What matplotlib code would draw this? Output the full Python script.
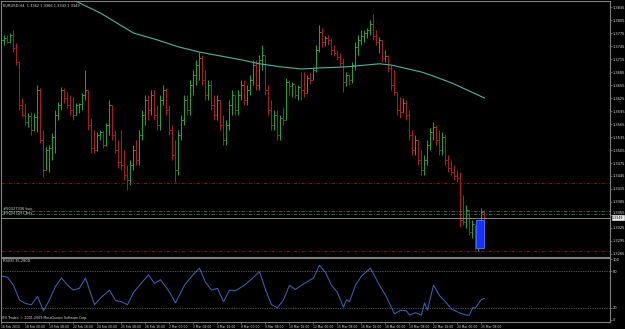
import matplotlib
matplotlib.use("Agg")
import matplotlib.pyplot as plt
from matplotlib.patches import Rectangle
import numpy as np

# EURUSD H4 bars, values in pips above 1.3000
FIRST_OPEN = 655
HIGHS = [770, 770, 770, 775, 782, 752, 710, 625, 613, 590,
         593, 590, 655, 648, 551, 512, 516, 544, 597, 616,
         650, 648, 639, 632, 627, 613, 613, 637, 690, 644,
         579, 551, 546, 551, 548, 567, 620, 609, 551, 528,
         551, 505, 470, 482, 516, 528, 551, 597, 632, 632,
         644, 644, 609, 632, 655, 648, 609, 563, 528, 551,
         586, 632, 632, 667, 690, 713, 731, 724, 690, 667,
         667, 632, 632, 620, 586, 574, 620, 644, 632, 644,
         667, 667, 655, 678, 713, 713, 724, 747, 724, 655,
         620, 597, 597, 586, 604, 671, 667, 662, 655, 655,
         685, 685, 678, 683, 694, 747, 793, 786, 768, 770,
         763, 747, 736, 729, 717, 685, 680, 708, 754, 770,
         782, 782, 786, 805, 819, 782, 766, 759, 736, 724,
         701, 690, 639, 627, 625, 620, 597, 551, 539, 528,
         505, 493, 528, 556, 569, 563, 551, 546, 539, 493,
         482, 470, 459, 454, 401, 378, 362, 343, 332, 316,
         371, 366]
LOWS = [639, 747, 752, 752, 731, 701, 597, 581, 563, 558,
        539, 548, 546, 521, 443, 459, 454, 482, 498, 574,
        597, 613, 602, 586, 574, 586, 590, 597, 620, 551,
        498, 498, 503, 528, 509, 514, 539, 528, 498, 463,
        459, 436, 413, 424, 459, 470, 470, 528, 563, 574,
        586, 574, 551, 551, 609, 586, 539, 482, 431, 447,
        528, 563, 586, 586, 632, 655, 667, 655, 620, 620,
        597, 574, 574, 551, 516, 516, 551, 586, 586, 586,
        620, 609, 609, 632, 655, 644, 644, 690, 632, 586,
        551, 551, 528, 528, 563, 574, 632, 627, 625, 620,
        620, 627, 637, 657, 667, 685, 731, 743, 745, 747,
        724, 722, 713, 699, 639, 653, 655, 660, 690, 724,
        747, 754, 763, 770, 759, 747, 729, 708, 708, 685,
        644, 632, 586, 579, 593, 574, 528, 493, 493, 470,
        447, 447, 470, 505, 528, 516, 493, 493, 470, 454,
        447, 436, 431, 327, 332, 325, 309, 302, 274, 272,
        286, 343]
CLOSES = [759, 763, 754, 770, 740, 708, 609, 586, 569, 583,
          551, 581, 644, 528, 459, 505, 509, 535, 586, 609,
          644, 625, 609, 597, 586, 609, 611, 632, 644, 563,
          509, 505, 539, 546, 516, 563, 609, 539, 505, 477,
          470, 447, 436, 470, 505, 482, 539, 586, 620, 597,
          632, 586, 563, 620, 644, 597, 551, 493, 459, 539,
          574, 620, 597, 655, 678, 701, 717, 667, 632, 655,
          609, 586, 620, 563, 528, 563, 609, 632, 597, 632,
          655, 620, 644, 667, 701, 655, 713, 724, 644, 597,
          563, 586, 539, 579, 574, 662, 653, 657, 632, 650,
          644, 637, 671, 667, 690, 736, 777, 754, 763, 759,
          736, 729, 720, 706, 662, 678, 667, 701, 743, 759,
          768, 775, 782, 796, 768, 754, 759, 717, 722, 694,
          655, 639, 597, 593, 613, 586, 539, 505, 528, 482,
          459, 482, 516, 546, 558, 528, 505, 535, 482, 463,
          454, 445, 440, 343, 339, 366, 316, 334, 286, 297,
          362, 349]

# moving average read at a few bars (pips above 1.3000)
MA_BARS = [20, 24, 33, 44, 52, 59, 66, 80, 86, 93, 100, 105, 115, 126, 130, 140, 143, 150, 156, 161]
MA_VALUES = [863, 851, 821, 775, 759, 743, 731, 713, 704, 697, 692, 694, 697, 704, 701, 685, 678, 660, 641, 625]

# RSI(8)
RSI_BARS = [0, 2, 4, 6, 8, 10, 12, 14, 16, 18, 20, 22, 24, 26, 28, 31, 33, 36, 38, 40,
            42, 44, 46, 49, 51, 53, 56, 58, 61, 64, 66, 68, 70, 72, 74, 76, 78, 81, 84, 86,
            88, 90, 92, 94, 96, 98, 100, 104, 106, 108, 110, 112, 114, 115, 116, 118, 120, 123, 126, 128,
            131, 133, 135, 136, 138, 140, 141, 142, 144, 146, 148, 150, 153, 155, 156, 157, 158, 160, 161]
RSI_VALUES = [72, 70, 57, 33, 27, 25, 39, 15, 33, 55, 69, 57, 49, 52, 69, 25, 36, 49, 32, 30,
              25, 45, 57, 74, 60, 66, 46, 28, 57, 75, 85, 62, 49, 52, 30, 49, 48, 57, 70, 79,
              50, 25, 20, 33, 57, 50, 57, 69, 90, 78, 57, 45, 21, 33, 30, 57, 72, 85, 57, 41,
              10, 16, 15, 8, 12, 8, 28, 16, 57, 40, 30, 18, 11, 8, 8, 20, 20, 34, 35.28]

PRICE_TICKS = [1.3835, 1.3805, 1.3775, 1.3745, 1.3715, 1.3685, 1.3655, 1.3625, 1.3595, 1.3565,
               1.3535, 1.3505, 1.3475, 1.3445, 1.3415, 1.3385, 1.3355, 1.3325, 1.3295, 1.3265]
RSI_TICKS = [0, 20, 80, 100]

TIME_BARS = [0, 8, 16, 24, 32, 40, 48, 56, 64, 72, 80, 88, 96, 104, 112, 120, 128, 136, 144, 152, 160]
TIME_LABELS = ["16 Feb 2010", "18 Feb 00:00", "19 Feb 08:00", "22 Feb 16:00", "24 Feb 00:00",
               "25 Feb 08:00", "26 Feb 16:00", "2 Mar 00:00", "3 Mar 08:00", "4 Mar 16:00",
               "8 Mar 00:00", "9 Mar 08:00", "10 Mar 16:00", "12 Mar 00:00", "15 Mar 08:00",
               "16 Mar 16:00", "18 Mar 00:00", "19 Mar 08:00", "22 Mar 16:00", "24 Mar 00:00",
               "25 Mar 08:00"]

ORDER_LEVELS = [1.3364, 1.3357]
ORDER_LABELS = ["#50327336 buy", "#50327091 buy"]
RED_LEVELS = [1.3429, 1.3272]
BOX_BARS = (158.3, 160.7)
BOX_PRICES = (1.3279, 1.3343)

W, H = 625, 329
UP = "#2f9a35"
DOWN = "#a3201c"
GREY = "#808080"
TXT = "#d8d8d8"
FS = 2.6


def frac(x0, y0, x1, y1):
    return [x0 / W, 1 - y1 / H, (x1 - x0) / W, (y1 - y0) / H]


def pips(v):
    return 1.3 + np.asarray(v, dtype=float) / 10000


hi, lo, cl = pips(HIGHS), pips(LOWS), pips(CLOSES)
op = np.concatenate([pips([FIRST_OPEN]), cl[:-1]])
x = np.arange(len(cl))
cols = np.where(cl >= op, UP, DOWN)

fig = plt.figure(figsize=(W / 100, H / 100), dpi=100, facecolor="black")
ax = fig.add_axes(frac(0.5, 1, 609.5, 256.5), facecolor="black")
ax_rsi = fig.add_axes(frac(0.5, 257.5, 609.5, 322), facecolor="black")

# price bars
ax.vlines(x, lo, hi, colors=cols, lw=0.75)
ax.hlines(op, x - 0.4, x, colors=cols, lw=0.75)
ax.hlines(cl, x, x + 0.4, colors=cols, lw=0.75)
ax.plot(MA_BARS, pips(MA_VALUES), color="#4fb3a0", lw=0.8)

for lvl in RED_LEVELS:
    ax.axhline(lvl, color="#8a1a1a", lw=0.6, ls=(0, (4, 2, 1, 2)))
for lvl in ORDER_LEVELS:
    ax.axhline(lvl, color="#3f7a4f", lw=0.6, ls=(0, (4, 2, 1, 2)))
ax.axhline(cl[-1], color="#9a9a9a", lw=0.6)

ax.add_patch(Rectangle((BOX_BARS[0], BOX_PRICES[0]), BOX_BARS[1] - BOX_BARS[0],
                       BOX_PRICES[1] - BOX_PRICES[0], facecolor="#1530ff",
                       edgecolor="#4a78ff", lw=0.6, zorder=3))

ax.set_xlim(-0.33, 202.67)
ax.set_ylim(1.32592, 1.38489)
ax.set_xticks([])
ax.yaxis.tick_right()
ax.set_yticks(PRICE_TICKS)
ax.set_yticklabels([f"{p:.4f}" for p in PRICE_TICKS])
ax.tick_params(axis="y", colors=GREY, labelcolor=TXT, labelsize=FS, length=1.5, width=0.5, pad=1)
# nudge the label next to the bid box up a little so the two do not collide
for t, p in zip(ax.get_yticklabels(), PRICE_TICKS):
    if abs(p - cl[-1]) < 0.0012:
        t.set_va("bottom")

ax.text(1.004, cl[-1], f"{cl[-1]:.4f}", transform=ax.get_yaxis_transform(), ha="left",
        va="center", fontsize=FS * 0.9, color="black",
        bbox=dict(boxstyle="square,pad=0.05", facecolor="#e8e8e8", edgecolor="white", lw=0.4))

# RSI window
ax_rsi.plot(RSI_BARS, RSI_VALUES, color="#3d62b0", lw=0.75)
for lvl in (20, 80):
    ax_rsi.axhline(lvl, color="#9a9a9a", lw=0.5, ls=(0, (1, 1.5)))
ax_rsi.set_xlim(-0.33, 202.67)
ax_rsi.set_ylim(-3.3, 102.5)
ax_rsi.yaxis.tick_right()
ax_rsi.set_yticks(RSI_TICKS)
ax_rsi.set_yticklabels([str(v) for v in RSI_TICKS])
ax_rsi.set_xticks(TIME_BARS)
ax_rsi.set_xticklabels(TIME_LABELS)
for lbl in ax_rsi.get_xticklabels():
    lbl.set_ha("left")
ax_rsi.tick_params(axis="both", colors=GREY, labelcolor=TXT, labelsize=FS, length=1.5, width=0.5, pad=1)
ax_rsi.tick_params(axis="x", labelsize=2.15)

for a in (ax, ax_rsi):
    for s in a.spines.values():
        s.set_color(GREY)
        s.set_linewidth(0.8)

o_last = op[-1]
fig.text(3 / W, 1 - 6 / H,
         f"EURUSD,H4  {o_last:.4f} {hi[-1]:.4f} {lo[-1]:.4f} {cl[-1]:.4f}",
         fontsize=FS, color=TXT, va="center")
for lbl, yy in zip(ORDER_LABELS, (209, 213)):
    fig.text(3 / W, 1 - yy / H, lbl, fontsize=FS, color=TXT, va="center")
fig.text(3 / W, 1 - 261 / H, f"RSI(8) {RSI_VALUES[-1]:.4f}", fontsize=FS, color=TXT, va="center")
fig.text(2 / W, 1 - 318.5 / H, "IFX Trader, © 2001-2009 MetaQuotes Software Corp.",
         fontsize=FS * 0.9, color=TXT, va="center")

fig.savefig("out.png", dpi=100, facecolor="black")
